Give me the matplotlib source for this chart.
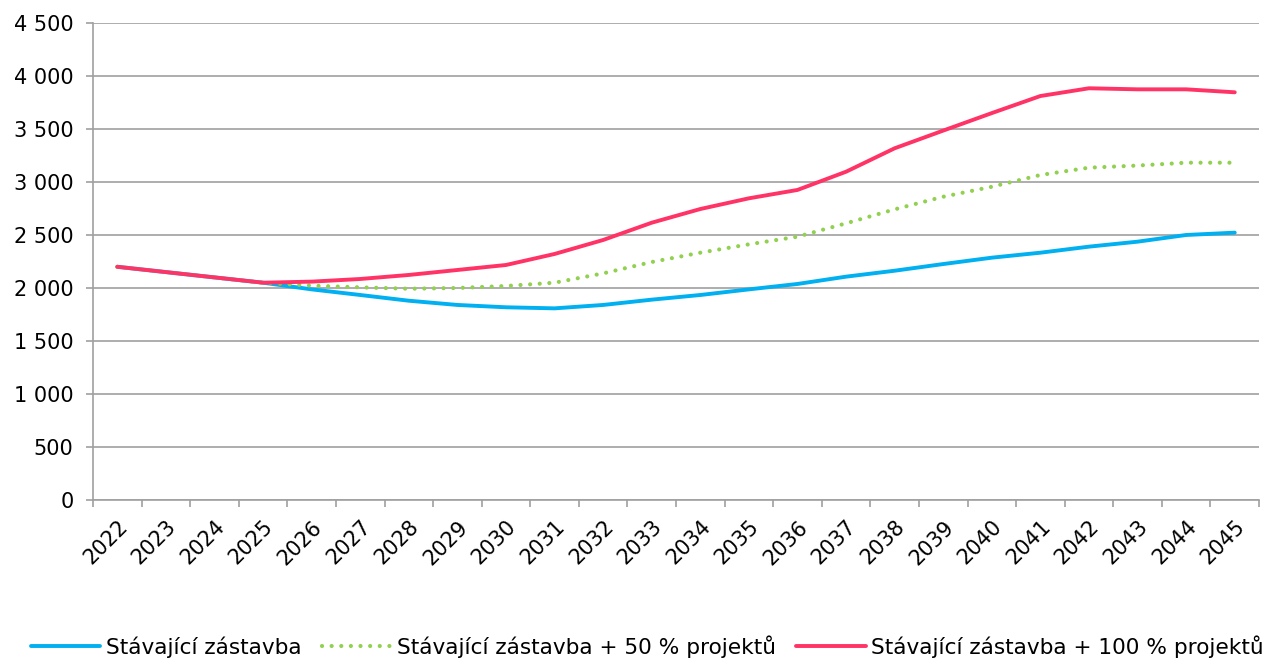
import numpy as np
import matplotlib.pyplot as plt
from matplotlib.ticker import FuncFormatter, MultipleLocator

years = [str(y) for y in range(2022, 2046)]
stavajici = [2200, 2150, 2100, 2050, 1987, 1934, 1880, 1840, 1818, 1808, 1840, 1890,
             1934, 1987, 2038, 2107, 2163, 2226, 2286, 2333, 2390, 2437, 2500, 2522]
projekty50 = [2200, 2150, 2100, 2050, 2022, 2006, 1993, 2000, 2019, 2050, 2138, 2245,
              2333, 2412, 2484, 2610, 2742, 2861, 2955, 3066, 3135, 3155, 3182, 3182]
projekty100 = [2200, 2150, 2100, 2050, 2060, 2085, 2123, 2170, 2217, 2321, 2453, 2616,
               2745, 2846, 2925, 3097, 3318, 3485, 3650, 3811, 3884, 3874, 3874, 3846]

plt.rcParams['font.family'] = ['DejaVu Sans']
fs = 15

fig = plt.figure(figsize=(12.71, 6.6), dpi=100)
ax = fig.add_axes([0.0732, 0.2424, 0.9906 - 0.0732, 0.9652 - 0.2424])

x = np.arange(len(years))
ax.plot(x, stavajici, color='#00B0F0', lw=2.8, solid_capstyle='round',
        label='Stávající zástavba', zorder=3)
ax.plot(x, projekty50, color='#92D050', lw=3, linestyle=(0, (0.01, 2.3)),
        dash_capstyle='round', label='Stávající zástavba + 50 % projektů', zorder=3)
ax.plot(x, projekty100, color='#FF3366', lw=2.8, solid_capstyle='round',
        label='Stávající zástavba + 100 % projektů', zorder=4)

ax.set_xlim(-0.5, len(years) - 0.5)
ax.set_ylim(0, 4500)
ax.yaxis.set_major_locator(MultipleLocator(500))
ax.yaxis.set_major_formatter(FuncFormatter(lambda v, p: f"{int(v):,}".replace(",", " ")))
ax.grid(axis='y', color='#A0A0A0', lw=1.2)
ax.set_axisbelow(True)

# year labels at category centres, tick marks between categories
ax.set_xticks(x)
ax.set_xticklabels(years, rotation=45, ha='right', rotation_mode='anchor')
ax.set_xticks(np.arange(-0.5, len(years)), minor=True)
ax.tick_params(axis='x', which='major', length=0, pad=12, labelsize=fs)
ax.tick_params(axis='x', which='minor', length=5, color='#A0A0A0', width=1.2)
ax.tick_params(axis='y', length=5, color='#A0A0A0', width=1.2, labelsize=fs, pad=9)

for s in ['top', 'right']:
    ax.spines[s].set_visible(False)
for s in ['left', 'bottom']:
    ax.spines[s].set_color('#A0A0A0')
    ax.spines[s].set_linewidth(1.2)

fig.legend(loc='lower left', bbox_to_anchor=(31 / 1271, 2 / 660), ncol=3, frameon=False,
           fontsize=15.6, handlelength=3.2, handletextpad=0.25, columnspacing=0.95,
           borderpad=0, borderaxespad=0)

fig.savefig('out.png', dpi=100)
